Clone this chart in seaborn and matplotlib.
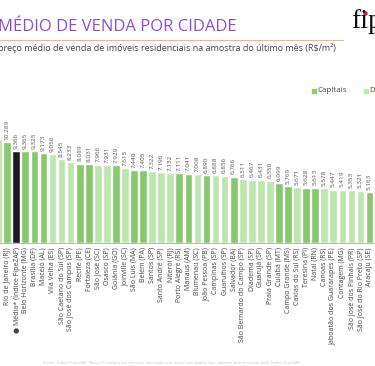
import matplotlib
matplotlib.use("Agg")
import matplotlib.pyplot as plt
import seaborn as sns
import pandas as pd

cities = ["São Paulo (SP)", "Rio de Janeiro (RJ)", "● Média* (Índice FipeZAP)", "Belo Horizonte (MG)",
          "Brasília (DF)", "Maceió (AL)", "Vila Velha (ES)", "São Caetano do Sul (SP)",
          "São José dos Campos (SP)", "Recife (PE)", "Fortaleza (CE)", "São José (SC)", "Osasco (SP)",
          "Goiânia (GO)", "Joinville (SC)", "São Luís (MA)", "Belém (PA)", "Santos (SP)",
          "Santo André (SP)", "Niterói (RJ)", "Porto Alegre (RS)", "Manaus (AM)", "Blumenau (SC)",
          "João Pessoa (PB)", "Campinas (SP)", "Guarulhos (SP)", "Salvador (BA)",
          "São Bernardo do Campo (SP)", "Diadema (SP)", "Guarujá (SP)", "Praia Grande (SP)",
          "Cuiabá (MT)", "Campo Grande (MS)", "Caxias do Sul (RS)", "Teresina (PI)", "Natal (RN)",
          "Canoas (RS)", "Jaboatão dos Guararapes (PE)", "Contagem (MG)", "São José dos Pinhais (PR)",
          "São José do Rio Preto (SP)", "Aracaju (SE)"]
values = [10590, 10289, 9366, 9365, 9325, 9173, 9056, 8545, 8233, 8089, 8031, 7966, 7931, 7929,
          7615, 7440, 7405, 7322, 7196, 7132, 7111, 7041, 7008, 6890, 6888, 6856, 6766, 6511,
          6467, 6431, 6350, 6099, 5769, 5671, 5628, 5613, 5578, 5447, 5419, 5353, 5321, 5163]
groups = ["Demais", "Capitais", "Média", "Capitais", "Capitais", "Capitais", "Demais", "Demais",
          "Demais", "Capitais", "Capitais", "Demais", "Demais", "Capitais", "Demais", "Capitais",
          "Capitais", "Demais", "Demais", "Demais", "Capitais", "Capitais", "Demais", "Capitais",
          "Demais", "Demais", "Capitais", "Demais", "Demais", "Demais", "Demais", "Capitais",
          "Capitais", "Demais", "Capitais", "Capitais", "Demais", "Demais", "Demais", "Demais",
          "Demais", "Capitais"]

palette = {"Capitais": "#80d65e", "Demais": "#b6f0a2", "Média": "#1c1c1c"}

df = pd.DataFrame({"cidade": cities, "valor": values, "grupo": groups})

sns.set_theme(style="white")
plt.rcParams["font.family"] = ["Open Sans", "DejaVu Sans"]

fig = plt.figure(figsize=(3.75, 3.66), dpi=100)
ax = fig.add_axes([0, 123 / 366, 1, 163 / 366])
sns.barplot(data=df, x="cidade", y="valor", hue="grupo", palette=palette, dodge=False,
            width=0.85, order=cities, legend=False, ax=ax)

for i, v in enumerate(values):
    ax.text(i, v + 250, f"{v:,}".replace(",", "."), rotation=90, ha="center", va="bottom",
            fontsize=4.6, color="#555555")

ax.set_xlim(0.205, 41.6)
ax.set_ylim(0, 16610)
ax.set_xlabel("")
ax.set_ylabel("")
ax.set_yticks([])
ax.tick_params(axis="x", rotation=90, labelsize=5, colors="#444444", length=2, width=0.5, pad=1)
ax.tick_params(axis="x", color="#999999")
for s in ["top", "left", "right"]:
    ax.spines[s].set_visible(False)
ax.spines["bottom"].set_color("#aaaaaa")
ax.spines["bottom"].set_linewidth(0.6)

# Title, subtitle, decorative line
fig.text(-0.005, 1 - 27 / 366, "MÉDIO DE VENDA POR CIDADE", fontsize=12, color="#8a4fd0",
         ha="left", va="center")
fig.add_artist(plt.Line2D([0, 343 / 375], [1 - 40 / 366, 1 - 40 / 366], color="#f2b48a", lw=0.8))
fig.text(-0.005, 1 - 48 / 366,
         "preço médio de venda de imóveis residenciais na amostra do último mês (R$/m²)",
         fontsize=6.5, color="#444444", ha="left", va="center")

# Logo
fig.text(351 / 375, 1 - 28 / 366, "fip", fontsize=20, family="Liberation Serif", color="#111111",
         ha="left", va="baseline")
fig.add_artist(plt.Rectangle((361.5 / 375, 1 - 16 / 366), 6 / 375, 5.5 / 366, color="white",
                             zorder=2))
fig.add_artist(plt.Line2D([364.5 / 375], [1 - 12.5 / 366], marker="o", markersize=3.2,
                          color="#d0202a", markeredgewidth=0, zorder=3))

# Legend
fig.add_artist(plt.Rectangle((312 / 375, 1 - 92.5 / 366), 4 / 375, 4 / 366, color="#80d65e"))
fig.text(318 / 375, 1 - 90.5 / 366, "Capitais", fontsize=5.8, color="#444444", ha="left",
         va="center")
fig.add_artist(plt.Rectangle((364 / 375, 1 - 92.5 / 366), 4 / 375, 4 / 366, color="#b6f0a2"))
fig.text(370 / 375, 1 - 90.5 / 366, "Demais cidades", fontsize=5.8, color="#444444", ha="left",
         va="center")

# Footer
fig.text(43 / 375, 1 - 363 / 366,
         "Fonte: Índice FipeZAP. Nota: (*) média ponderada calculada com base nos dados das cidades "
         "monitoradas pelo Índice FipeZAP",
         fontsize=3.2, color="#c8c8c8", ha="left", va="center")

fig.savefig("out.png", dpi=100)
